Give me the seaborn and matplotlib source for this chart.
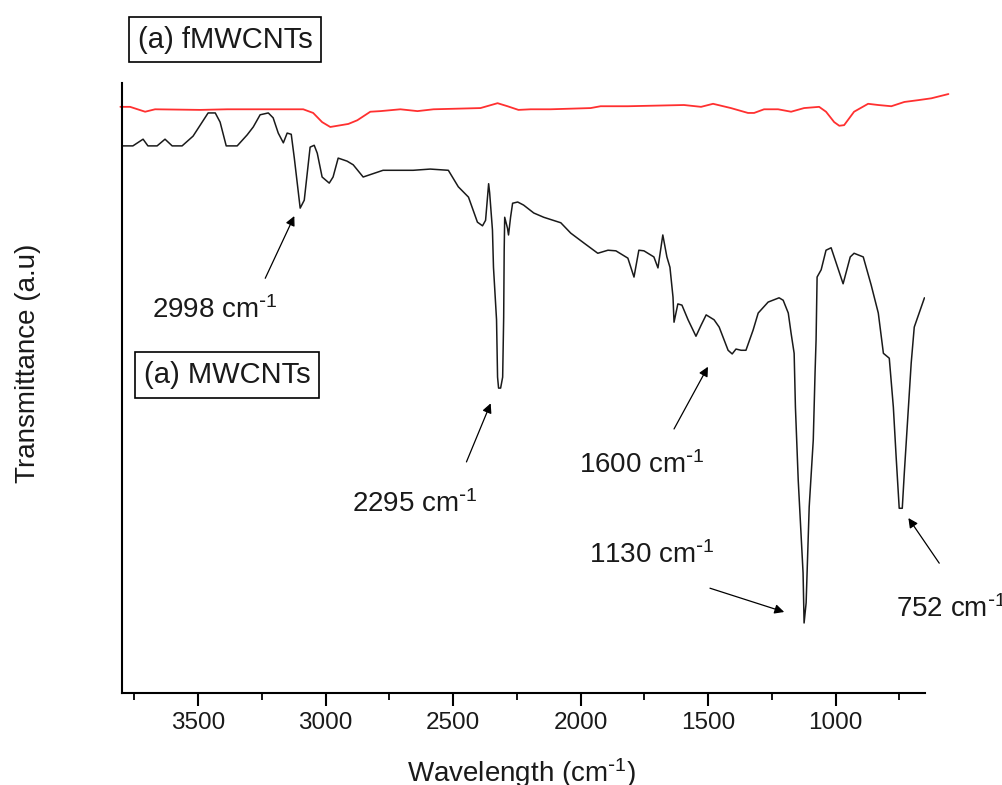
import matplotlib
matplotlib.use("Agg")
import matplotlib.pyplot as plt
import seaborn as sns
from matplotlib.ticker import MultipleLocator, AutoMinorLocator

# MWCNTs spectrum (black), wavenumber in cm-1 and transmittance in a.u.
mw_wn = [3800, 3756, 3716, 3697, 3661, 3630, 3602, 3563, 3520, 3492, 3461, 3433,
         3414, 3390, 3347, 3308, 3284, 3257, 3225, 3206, 3186, 3166, 3151, 3135,
         3123, 3100, 3084, 3061, 3045, 3033, 3014, 2986, 2971, 2951, 2916, 2892,
         2853, 2818, 2775, 2657, 2590, 2519, 2480, 2440, 2405, 2385, 2373, 2361,
         2357, 2346, 2342, 2330, 2326, 2322, 2314, 2306, 2302, 2300, 2298, 2287,
         2283, 2275, 2267, 2247, 2224, 2184, 2145, 2078, 2039, 1988, 1933, 1893,
         1862, 1815, 1791, 1772, 1752, 1713, 1697, 1678, 1662, 1650, 1638, 1634,
         1619, 1603, 1579, 1548, 1528, 1508, 1477, 1457, 1422, 1406, 1391, 1371,
         1352, 1324, 1304, 1265, 1222, 1206, 1186, 1175, 1163, 1158, 1147, 1128,
         1124, 1116, 1104, 1088, 1081, 1077, 1073, 1057, 1038, 1018, 1006, 971,
         943, 928, 892, 861, 833, 813, 790, 774, 763, 751, 739, 731, 715, 704,
         692, 673, 652]
mw_t = [89.2, 89.2, 90.3, 89.2, 89.2, 90.3, 89.2, 89.2, 90.8, 92.6, 94.6, 94.6,
        93.1, 89.2, 89.2, 91.0, 92.3, 94.3, 94.6, 93.8, 91.3, 89.7, 91.3, 91.1,
        87.2, 79.0, 80.3, 89.0, 89.3, 88.0, 84.1, 83.1, 84.1, 87.2, 86.7, 86.1,
        84.1, 84.6, 85.2, 85.2, 85.4, 85.2, 82.5, 80.8, 76.7, 76.1, 77.0, 83.0,
        81.5, 75.4, 69.3, 60.7, 51.3, 49.5, 49.5, 51.3, 61.1, 72.1, 77.5, 75.7,
        74.6, 77.5, 79.8, 80.0, 79.5, 78.2, 77.5, 76.6, 74.9, 73.3, 71.6, 72.1,
        72.0, 70.8, 67.7, 72.1, 72.0, 71.0, 69.2, 74.6, 71.0, 69.3, 64.4, 60.3,
        63.3, 63.1, 60.7, 58.0, 59.8, 61.5, 60.7, 59.5, 55.7, 55.1, 55.9, 55.7,
        55.7, 59.0, 61.8, 63.6, 64.3, 63.9, 61.8, 58.5, 55.2, 46.4, 34.4, 19.2,
        11.0, 14.3, 30.0, 41.0, 52.0, 57.4, 67.7, 68.9, 72.1, 72.5, 71.0, 66.6,
        71.0, 71.6, 71.0, 66.4, 61.8, 55.2, 54.4, 46.4, 38.2, 29.8, 29.8, 35.6,
        46.4, 53.6, 59.5, 61.8, 64.3]

# fMWCNTs spectrum (red)
fmw_wn = [3805, 3767, 3708, 3669, 3492, 3386, 3166, 3088, 3049, 3014, 2982, 2911,
          2876, 2825, 2785, 2707, 2640, 2577, 2393, 2326, 2287, 2244, 2196, 2118,
          1961, 1922, 1815, 1595, 1528, 1481, 1411, 1344, 1320, 1281, 1226, 1175,
          1124, 1065, 1038, 1006, 986, 967, 928, 873, 833, 782, 731, 676, 625, 558]
fmw_t = [95.6, 95.6, 94.8, 95.2, 95.1, 95.2, 95.2, 95.2, 94.6, 93.1, 92.3, 92.8,
         93.4, 94.8, 94.9, 95.2, 94.9, 95.2, 95.4, 96.2, 95.7, 95.1, 95.2, 95.2,
         95.4, 95.7, 95.7, 95.9, 95.6, 96.1, 95.4, 94.6, 94.6, 95.2, 95.2, 94.8,
         95.4, 95.6, 94.8, 93.1, 92.5, 92.6, 94.8, 96.1, 95.9, 95.7, 96.4, 96.7,
         97.0, 97.7]

# peak labels: text, text anchor (wn, t), arrow tail, arrow head
peak_labels = ["2998", "2295", "1600", "1130", "752"]
label_pos = [(3681, 61.0), (2895, 29.2), (2008, 35.6), (1968, 20.8), (763, 12.0)]
arrow_tail = [(3237, 67.5), (2448, 37.4), (1634, 42.8), (1493, 16.7), (594, 20.8)]
arrow_head = [(3123, 77.7), (2353, 47.0), (1501, 53.0), (1202, 12.8), (715, 28.2)]

sns.set_style("ticks")
plt.rcParams["font.family"] = ["Liberation Sans", "DejaVu Sans"]
plt.rcParams["mathtext.default"] = "regular"

fig = plt.figure(figsize=(10.03, 7.85), dpi=100)
ax = fig.add_axes([0.1213, 0.1178, 0.8009, 0.7764])

sns.lineplot(x=mw_wn, y=mw_t, ax=ax, color="#1a1a1a", lw=1.1,
             estimator=None, sort=False)
sns.lineplot(x=fmw_wn, y=fmw_t, ax=ax, color="#ff3030", lw=1.3,
             estimator=None, sort=False, clip_on=False)

ax.set_xlim(3800, 650)
ax.set_ylim(-0.4, 99.5)
ax.xaxis.set_major_locator(MultipleLocator(500))
ax.xaxis.set_minor_locator(AutoMinorLocator(2))
ax.set_yticks([])
sns.despine(ax=ax)
for s in ["left", "bottom"]:
    ax.spines[s].set_linewidth(1.5)
    ax.spines[s].set_color("black")
ax.tick_params(axis="x", which="major", direction="out", length=9, width=1.5,
               labelsize=17.5, pad=5, color="black", labelcolor="#1a1a1a")
ax.tick_params(axis="x", which="minor", direction="out", length=5, width=1.3,
               color="black")

sup = r" cm$^{\text{-}1}$"
ax.set_xlabel("Wavelength (cm$^{\\text{-}1}$)", fontsize=20, color="#1a1a1a")
ax.xaxis.set_label_coords(0.498, -0.105)
fig.text(28 / 1003, 1 - 363 / 785, "Transmittance (a.u)", fontsize=20,
         rotation=90, ha="center", va="center", color="#1a1a1a")

for lab, pos, tail, head in zip(peak_labels, label_pos, arrow_tail, arrow_head):
    ax.text(pos[0], pos[1], lab + sup, fontsize=20, color="#1a1a1a",
            ha="left", va="baseline", clip_on=False)
    ax.annotate("", xy=head, xytext=tail,
                arrowprops=dict(arrowstyle="-|>", color="black", lw=0.9,
                                mutation_scale=14, shrinkA=0, shrinkB=0))

box = dict(boxstyle="square,pad=0.3", fc="white", ec="black", lw=1.2)
fig.text(225 / 1003, 1 - 39.5 / 785, "(a) fMWCNTs", fontsize=21, ha="center",
         va="center", color="#1a1a1a", bbox=box)
fig.text(227 / 1003, 1 - 375 / 785, "(a) MWCNTs", fontsize=21, ha="center",
         va="center", color="#1a1a1a", bbox=box)

fig.savefig("out.png", dpi=100)
